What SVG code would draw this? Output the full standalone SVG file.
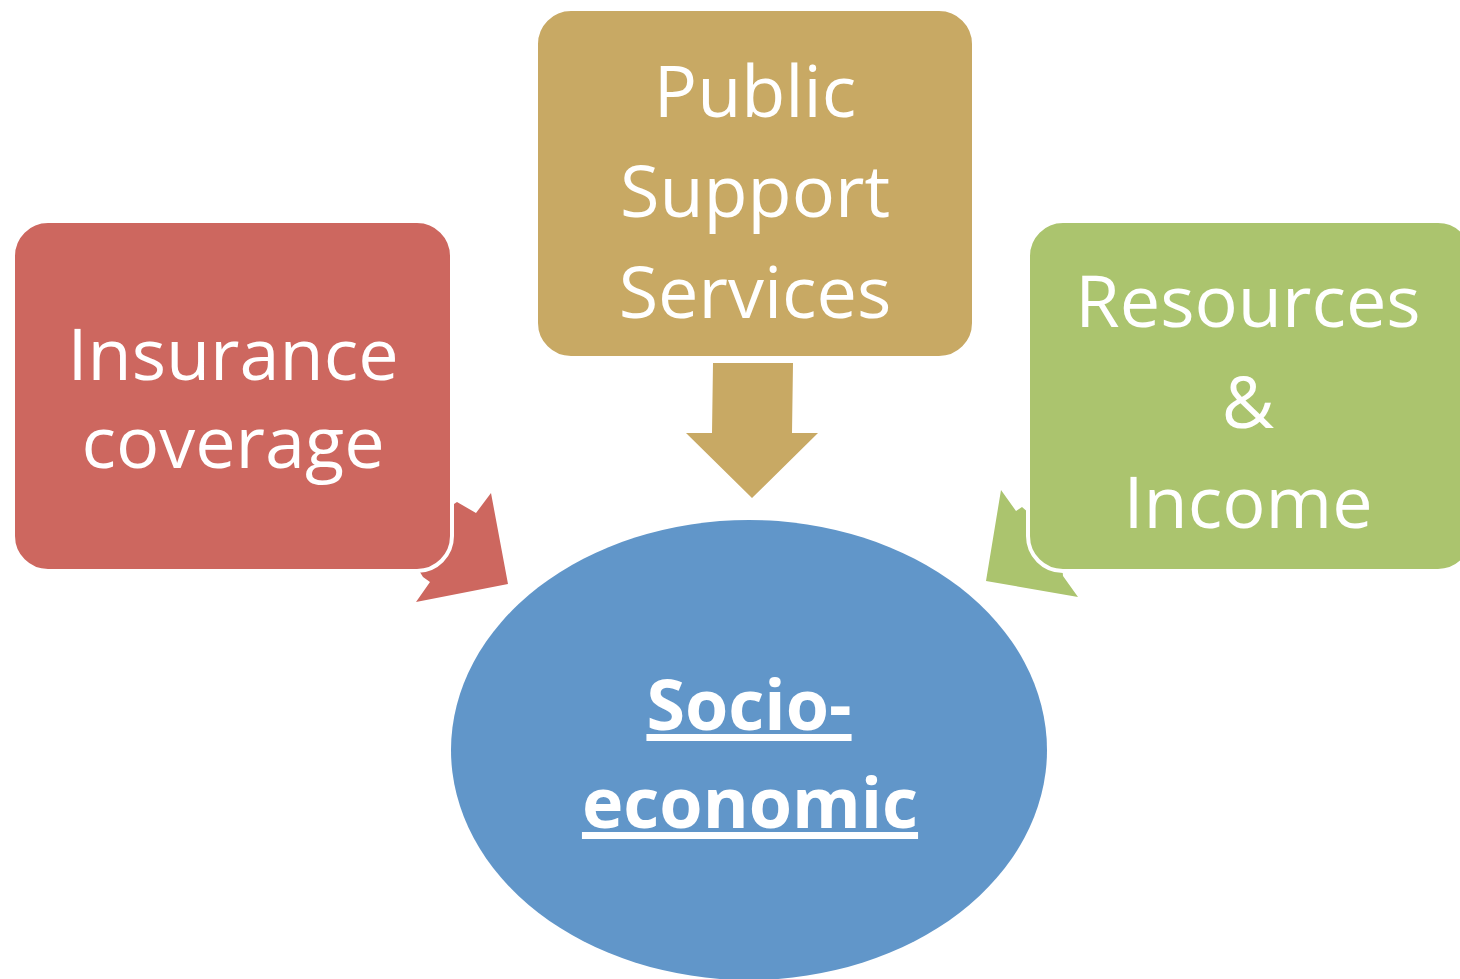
<svg xmlns="http://www.w3.org/2000/svg" width="1460" height="979" viewBox="0 0 1460 979">
  <style>
    .box { stroke: #ffffff; stroke-width: 4; }
    .lbl { font-family: "Open Sans", "Noto Sans", sans-serif; font-size: 72px; fill: #ffffff; text-anchor: middle; }
    .hub { font-family: "Open Sans", "Noto Sans", sans-serif; font-size: 70px; font-weight: bold; fill: #ffffff; text-anchor: middle; text-decoration: underline; }
  </style>
  <rect width="1460" height="979" fill="#ffffff"/>

  <!-- block arrows pointing into the hub -->
  <g id="connectors">
    <polygon points="491,493 476,513 457,502 400,540 423,577 430,582 416,602 508,584" fill="#CD675F"/>
    <polygon points="713,363 793,363 792,433 818,433 752,498 686,433 712,433" fill="#C8A964"/>
    <polygon points="1001,490 1016,511 1022,507 1060,540 1063,576 1078,597 986,581" fill="#ABC46E"/>
  </g>

  <g id="insurance">
    <rect class="box" x="13" y="221" width="439" height="350" rx="35" fill="#CD675F"/>
    <text class="lbl" x="233" y="380">Insurance</text>
    <text class="lbl" x="233" y="468">coverage</text>
  </g>

  <g id="public-support">
    <rect class="box" x="536" y="9" width="438" height="349" rx="35" fill="#C8A964"/>
    <text class="lbl" x="755" y="117">Public</text>
    <text class="lbl" x="755" y="217">Support</text>
    <text class="lbl" x="755" y="318">Services</text>
  </g>

  <g id="resources">
    <rect class="box" x="1028" y="221" width="445" height="350" rx="35" fill="#ABC46E"/>
    <text class="lbl" x="1248" y="327">Resources</text>
    <text class="lbl" x="1248" y="428">&amp;</text>
    <text class="lbl" x="1248" y="528">Income</text>
  </g>

  <g id="socio-economic">
    <ellipse cx="749" cy="750" rx="298" ry="230" fill="#6196C9"/>
    <text class="hub" x="749" y="730">Socio-</text>
    <text class="hub" x="750" y="828">economic</text>
  </g>
</svg>
